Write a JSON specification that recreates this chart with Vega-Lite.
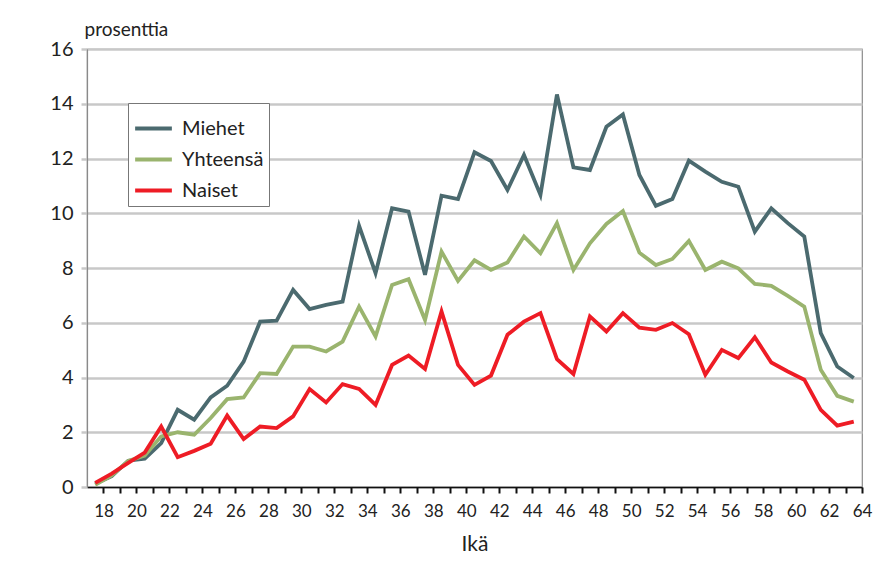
{
  "$schema": "https://vega.github.io/schema/vega-lite/v6.json",
  "width": 775,
  "height": 438,
  "autosize": {"type": "none"},
  "padding": {"left": 87, "top": 49, "right": 20, "bottom": 76},
  "background": "white",
  "config": {
    "font": "Lato",
    "view": {"stroke": "#8a8a8a", "strokeWidth": 1.2}
  },
  "data": {
    "values": [
      {"ika":18,"Miehet":0.12,"Yhteensä":0.08,"Naiset":0.15},
      {"ika":19,"Miehet":0.4,"Yhteensä":0.42,"Naiset":0.49},
      {"ika":20,"Miehet":0.96,"Yhteensä":0.95,"Naiset":0.88},
      {"ika":21,"Miehet":1.03,"Yhteensä":1.15,"Naiset":1.26},
      {"ika":22,"Miehet":1.6,"Yhteensä":1.85,"Naiset":2.21},
      {"ika":23,"Miehet":2.82,"Yhteensä":2.0,"Naiset":1.09},
      {"ika":24,"Miehet":2.46,"Yhteensä":1.91,"Naiset":1.32},
      {"ika":25,"Miehet":3.27,"Yhteensä":2.52,"Naiset":1.58},
      {"ika":26,"Miehet":3.7,"Yhteensä":3.21,"Naiset":2.61},
      {"ika":27,"Miehet":4.58,"Yhteensä":3.27,"Naiset":1.75},
      {"ika":28,"Miehet":6.04,"Yhteensä":4.16,"Naiset":2.21},
      {"ika":29,"Miehet":6.08,"Yhteensä":4.13,"Naiset":2.15},
      {"ika":30,"Miehet":7.2,"Yhteensä":5.13,"Naiset":2.58},
      {"ika":31,"Miehet":6.5,"Yhteensä":5.13,"Naiset":3.58},
      {"ika":32,"Miehet":6.65,"Yhteensä":4.95,"Naiset":3.09},
      {"ika":33,"Miehet":6.77,"Yhteensä":5.31,"Naiset":3.76},
      {"ika":34,"Miehet":9.54,"Yhteensä":6.59,"Naiset":3.58},
      {"ika":35,"Miehet":7.81,"Yhteensä":5.5,"Naiset":3.0},
      {"ika":36,"Miehet":10.18,"Yhteensä":7.38,"Naiset":4.46},
      {"ika":37,"Miehet":10.06,"Yhteensä":7.59,"Naiset":4.8},
      {"ika":38,"Miehet":7.75,"Yhteensä":6.1,"Naiset":4.31},
      {"ika":39,"Miehet":10.64,"Yhteensä":8.6,"Naiset":6.41},
      {"ika":40,"Miehet":10.52,"Yhteensä":7.53,"Naiset":4.46},
      {"ika":41,"Miehet":12.23,"Yhteensä":8.28,"Naiset":3.73},
      {"ika":42,"Miehet":11.91,"Yhteensä":7.93,"Naiset":4.07},
      {"ika":43,"Miehet":10.85,"Yhteensä":8.2,"Naiset":5.56},
      {"ika":44,"Miehet":12.13,"Yhteensä":9.15,"Naiset":6.04},
      {"ika":45,"Miehet":10.67,"Yhteensä":8.54,"Naiset":6.35},
      {"ika":46,"Miehet":14.34,"Yhteensä":9.64,"Naiset":4.67},
      {"ika":47,"Miehet":11.68,"Yhteensä":7.93,"Naiset":4.13},
      {"ika":48,"Miehet":11.58,"Yhteensä":8.9,"Naiset":6.23},
      {"ika":49,"Miehet":13.16,"Yhteensä":9.61,"Naiset":5.68},
      {"ika":50,"Miehet":13.61,"Yhteensä":10.08,"Naiset":6.35},
      {"ika":51,"Miehet":11.4,"Yhteensä":8.56,"Naiset":5.82},
      {"ika":52,"Miehet":10.27,"Yhteensä":8.11,"Naiset":5.74},
      {"ika":53,"Miehet":10.52,"Yhteensä":8.33,"Naiset":5.99},
      {"ika":54,"Miehet":11.92,"Yhteensä":8.99,"Naiset":5.58},
      {"ika":55,"Miehet":11.52,"Yhteensä":7.93,"Naiset":4.1},
      {"ika":56,"Miehet":11.15,"Yhteensä":8.23,"Naiset":5.01},
      {"ika":57,"Miehet":10.97,"Yhteensä":7.99,"Naiset":4.71},
      {"ika":58,"Miehet":9.33,"Yhteensä":7.42,"Naiset":5.47},
      {"ika":59,"Miehet":10.18,"Yhteensä":7.35,"Naiset":4.55},
      {"ika":60,"Miehet":9.64,"Yhteensä":6.98,"Naiset":4.22},
      {"ika":61,"Miehet":9.15,"Yhteensä":6.59,"Naiset":3.92},
      {"ika":62,"Miehet":5.62,"Yhteensä":4.28,"Naiset":2.82},
      {"ika":63,"Miehet":4.4,"Yhteensä":3.33,"Naiset":2.24},
      {"ika":64,"Miehet":3.98,"Yhteensä":3.12,"Naiset":2.39}
    ]
  },
  "transform": [
    {"fold": ["Miehet", "Yhteensä", "Naiset"], "as": ["sarja", "arvo"]}
  ],
  "mark": {"type": "line", "strokeWidth": 3.8, "strokeJoin": "miter"},
  "encoding": {
    "x": {
      "field": "ika",
      "type": "ordinal",
      "scale": {"type": "band", "paddingInner": 0, "paddingOuter": 0},
      "axis": {
        "title": "Ikä",
        "titleFont": "Lato",
        "titleFontSize": 21,
        "titleFontWeight": "normal",
        "titleColor": "#222",
        "titlePadding": 14,
        "labelAngle": 0,
        "labelFontSize": 17,
        "labelColor": "#222",
        "labelPadding": 10,
        "labelOverlap": false,
        "tickOffset": 8.25,
        "labelExpr": "datum.value % 2 == 0 ? datum.label : ''",
        "ticks": true,
        "tickSize": 6,
        "tickWidth": 2,
        "tickColor": "#111",
        "domainColor": "#111",
        "domainWidth": 1.5,
        "grid": false
      }
    },
    "y": {
      "field": "arvo",
      "type": "quantitative",
      "scale": {"domain": [0, 16], "nice": false},
      "axis": {
        "title": "prosenttia",
        "titleAngle": 0,
        "titleAlign": "left",
        "titleBaseline": "alphabetic",
        "titleX": -3,
        "titleY": -14,
        "titleFontSize": 19,
        "titleFontWeight": "normal",
        "titleColor": "#222",
        "values": [0, 2, 4, 6, 8, 10, 12, 14, 16],
        "labelFontSize": 20,
        "labelColor": "#222",
        "labelPadding": 8,
        "tickSize": 6,
        "tickWidth": 2.5,
        "tickColor": "#c8c8c8",
        "grid": true,
        "gridColor": "#c8c8c8",
        "gridWidth": 2.5,
        "domainColor": "#8a8a8a",
        "domainWidth": 1.2
      }
    },
    "color": {
      "field": "sarja",
      "type": "nominal",
      "sort": ["Miehet", "Yhteensä", "Naiset"],
      "scale": {
        "domain": ["Miehet", "Yhteensä", "Naiset"],
        "range": ["#4b6a6f", "#9ab46e", "#ee1c25"]
      },
      "legend": {
        "title": null,
        "orient": "none",
        "legendX": 41,
        "legendY": 54,
        "strokeColor": "#777",
        "fillColor": "white",
        "padding": 5,
        "rowPadding": 0,
        "symbolType": "stroke",
        "symbolSize": 1350,
        "symbolStrokeWidth": 4,
        "labelFontSize": 20,
        "labelColor": "#222",
        "labelOffset": 8,
        "labelLimit": 200
      }
    }
  }
}
